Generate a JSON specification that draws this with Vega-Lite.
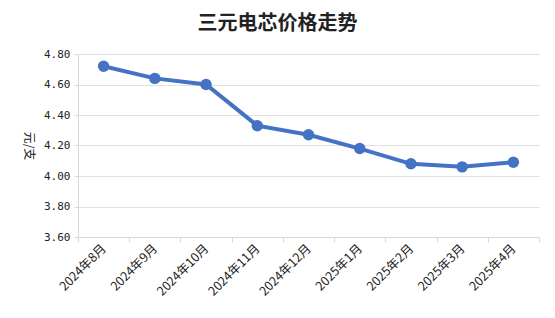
{
  "$schema": "https://vega.github.io/schema/vega-lite/v6.json",
  "width": 461,
  "height": 183,
  "autosize": {"type": "none"},
  "padding": {"left": 78, "top": 54, "right": 16, "bottom": 81},
  "background": "white",
  "title": {
    "text": "三元电芯价格走势",
    "font": "Noto Sans CJK SC",
    "fontSize": 20,
    "fontWeight": "bold",
    "color": "#222222",
    "anchor": "middle",
    "dx": -31,
    "offset": 14
  },
  "data": {
    "values": [
      {"month": "2024年8月", "price": 4.72},
      {"month": "2024年9月", "price": 4.64},
      {"month": "2024年10月", "price": 4.60},
      {"month": "2024年11月", "price": 4.33},
      {"month": "2024年12月", "price": 4.27},
      {"month": "2025年1月", "price": 4.18},
      {"month": "2025年2月", "price": 4.08},
      {"month": "2025年3月", "price": 4.06},
      {"month": "2025年4月", "price": 4.09}
    ]
  },
  "mark": {"type": "line", "color": "#4472C4", "strokeWidth": 4, "point": {"size": 130, "color": "#4472C4", "opacity": 1}},
  "encoding": {
    "x": {
      "field": "month",
      "type": "ordinal",
      "sort": null,
      "scale": {"type": "band", "paddingInner": 0, "paddingOuter": 0},
      "axis": {
        "title": null,
        "labelAngle": -45,
        "labelAlign": "right",
        "labelBaseline": "middle",
        "labelFont": "Noto Sans CJK SC",
        "labelFontSize": 12.5,
        "labelColor": "#222222",
        "labelPadding": 4,
        "tickBand": "extent",
        "tickColor": "#d9d9d9",
        "tickSize": 5,
        "domainColor": "#d9d9d9",
        "grid": false
      }
    },
    "y": {
      "field": "price",
      "type": "quantitative",
      "scale": {"domain": [3.6, 4.8], "nice": false, "zero": false},
      "axis": {
        "title": "元/支",
        "titleAngle": 90,
        "titleFont": "Noto Sans CJK SC",
        "titleFontSize": 12,
        "titleFontWeight": "normal",
        "titleColor": "#222222",
        "titlePadding": 22,
        "values": [3.6, 3.8, 4.0, 4.2, 4.4, 4.6, 4.8],
        "format": ".2f",
        "labelFont": "DejaVu Sans Mono",
        "labelFontSize": 11,
        "labelColor": "#222222",
        "labelPadding": 4,
        "tickColor": "#d9d9d9",
        "tickSize": 4,
        "domainColor": "#d9d9d9",
        "gridColor": "#e0e0e0"
      }
    }
  },
  "config": {"view": {"stroke": null}}
}
